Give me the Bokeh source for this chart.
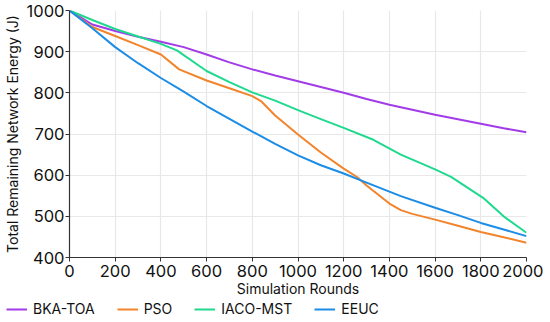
from bokeh.plotting import figure
from bokeh.models import Legend, LegendItem, FixedTicker
from bokeh.layouts import column
from bokeh.embed import file_html
from bokeh.resources import INLINE

bka_x = [0, 100, 200, 300, 400, 500, 600, 700, 800, 900, 1000, 1100, 1200, 1300, 1400, 1500, 1600, 1700, 1800, 1900, 2000]
bka_y = [1000, 966, 950, 936, 924, 911, 893, 874, 857, 842, 828, 814, 800, 785, 771, 759, 747, 736, 725, 714, 704]

pso_x = [0, 100, 200, 300, 400, 480, 600, 700, 800, 840, 900, 1000, 1100, 1200, 1260, 1300, 1400, 1450, 1500, 1600, 1700, 1800, 1900, 2000]
pso_y = [1000, 960, 938, 916, 893, 857, 830, 811, 792, 779, 745, 699, 655, 616, 595, 575, 531, 515, 506, 492, 477, 462, 449, 436]

iaco_x = [0, 100, 200, 300, 400, 470, 600, 700, 800, 900, 1000, 1100, 1200, 1330, 1450, 1600, 1670, 1810, 1900, 2000]
iaco_y = [1000, 977, 955, 937, 919, 903, 853, 826, 801, 781, 758, 736, 715, 686, 650, 614, 596, 545, 500, 460]

eeuc_x = [0, 100, 200, 300, 400, 500, 600, 700, 800, 900, 1000, 1100, 1200, 1300, 1400, 1450, 1600, 1700, 1800, 1900, 2000]
eeuc_y = [1000, 957, 911, 872, 836, 803, 768, 737, 706, 676, 648, 624, 604, 582, 560, 549, 521, 503, 484, 468, 452]

names = ["BKA-TOA", "PSO", "IACO-MST", "EEUC"]
colors = ["#a23be8", "#f2842c", "#1fd98e", "#1c8de6"]

x_ticks = [0, 200, 400, 600, 800, 1000, 1200, 1400, 1600, 1800, 2000]
y_ticks = [400, 500, 600, 700, 800, 900, 1000]

FONT = "Inter"

p = figure(frame_width=457, frame_height=247, output_backend="svg", toolbar_location=None,
           x_range=(0, 2000), y_range=(400, 1000),
           min_border_left=60, min_border_top=10, min_border_right=17, min_border_bottom=0)
p.outline_line_color = None

for xs, ys, c in zip([bka_x, pso_x, iaco_x, eeuc_x], [bka_y, pso_y, iaco_y, eeuc_y], colors):
    p.line(xs, ys, line_color=c, line_width=2)

for ax in (p.xaxis[0], p.yaxis[0]):
    ax.axis_line_color = "#333333"
    ax.axis_line_width = 1.2
    ax.major_tick_line_color = "#333333"
    ax.major_tick_out = 4
    ax.major_tick_in = 0
    ax.minor_tick_line_color = None
    ax.major_label_text_font = FONT
    ax.major_label_text_font_size = "16.5px"
    ax.major_label_text_color = "#111111"
    ax.axis_label_text_font = FONT
    ax.axis_label_text_font_size = "14px"
    ax.axis_label_text_font_style = "normal"
    ax.axis_label_text_color = "#111111"

p.xaxis[0].ticker = FixedTicker(ticks=x_ticks)
p.yaxis[0].ticker = FixedTicker(ticks=y_ticks)
p.xaxis[0].axis_label = "Simulation Rounds"
p.yaxis[0].axis_label = "Total Remaining Network Energy (J)"
p.xaxis[0].major_label_standoff = 3
p.xaxis[0].axis_label_standoff = 0
p.yaxis[0].major_label_standoff = 1
p.yaxis[0].axis_label_standoff = 3

p.xgrid.grid_line_color = "#e8e8e8"
p.ygrid.grid_line_color = "#e8e8e8"
p.xgrid.grid_line_width = 1.2
p.ygrid.grid_line_width = 1.2

# legend strip
lg = figure(frame_width=534, frame_height=18, output_backend="svg", toolbar_location=None,
            x_range=(0, 1), y_range=(0, 1),
            min_border_left=0, min_border_right=0, min_border_top=0, min_border_bottom=0,
            x_axis_location=None, y_axis_location=None)
lg.grid.visible = False
lg.outline_line_color = None
leg_renderers = [lg.line([-5, -4], [-5, -4], line_color=c, line_width=2) for c in colors]
legend = Legend(items=[LegendItem(label=n, renderers=[r]) for n, r in zip(names, leg_renderers)],
                orientation="horizontal", location=(6, 0),
                label_text_font=FONT, label_text_font_size="14px", label_text_color="#111111",
                glyph_width=21, glyph_height=10, spacing=22, padding=0, margin=0,
                border_line_color=None, background_fill_alpha=0, label_standoff=6)
lg.add_layout(legend, "center")

layout = column(p, lg, spacing=0)
open("out.html", "w").write(file_html(layout, INLINE))
